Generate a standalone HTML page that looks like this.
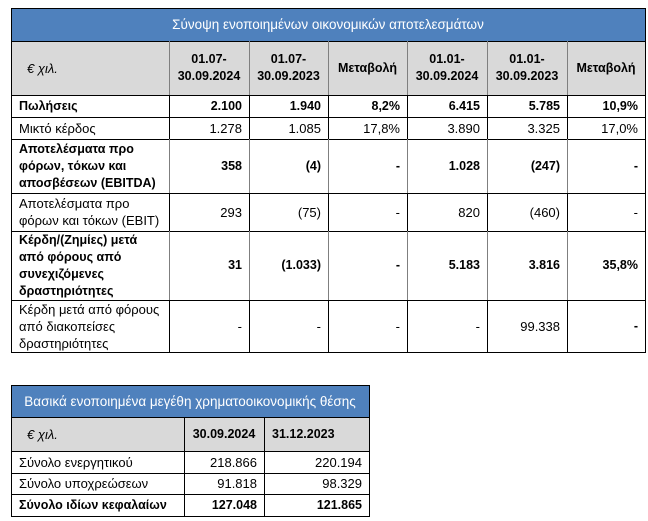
<!DOCTYPE html>
<html><head><meta charset="utf-8">
<style>
html,body{margin:0;padding:0;background:#fff;}
body{width:648px;height:521px;position:relative;overflow:hidden;font-family:"Liberation Sans","Noto Sans CJK SC",sans-serif;font-size:13px;color:#000;}
.c{position:absolute;box-sizing:border-box;display:flex;align-items:center;line-height:17px;white-space:nowrap;font-size:13px;}
.l{justify-content:flex-start;padding-left:8px;}
.r{justify-content:flex-end;padding-right:7px;}
.m{justify-content:center;text-align:center;}
.b{font-weight:bold;font-size:12.5px;}
.blue{background:#4f81bd;color:#fff;font-size:13.5px;}
.gray{background:#d9d9d9;}
.h{position:absolute;height:1px;background:#000;}
.v{position:absolute;width:1px;background:#000;}
.vg{background:#7f7f7f;}
</style></head><body>

<!-- TOP TABLE backgrounds -->
<div class="c m blue" style="left:11px;top:8px;width:634px;height:33px;">Σύνοψη ενοποιημένων οικονομικών αποτελεσμάτων</div>
<div class="gray" style="position:absolute;left:11px;top:41px;width:634px;height:54px;"></div>

<!-- header row -->
<div class="c l" style="left:11px;top:41px;width:158px;height:54px;padding-left:16px;font-style:italic;">€ χιλ.</div>
<div class="c m b" style="left:169px;top:41px;width:80px;height:54px;">01.07-<br>30.09.2024</div>
<div class="c m b" style="left:249px;top:41px;width:79px;height:54px;">01.07-<br>30.09.2023</div>
<div class="c m b" style="left:328px;top:41px;width:79px;height:54px;">Μεταβολή</div>
<div class="c m b" style="left:407px;top:41px;width:80px;height:54px;">01.01-<br>30.09.2024</div>
<div class="c m b" style="left:487px;top:41px;width:80px;height:54px;">01.01-<br>30.09.2023</div>
<div class="c m b" style="left:567px;top:41px;width:78px;height:54px;">Μεταβολή</div>

<!-- row Πωλήσεις 95-117 -->
<div class="c l b" style="left:11px;top:95px;width:158px;height:22px;">Πωλήσεις</div>
<div class="c r b" style="left:169px;top:95px;width:80px;height:22px;">2.100</div>
<div class="c r b" style="left:249px;top:95px;width:79px;height:22px;">1.940</div>
<div class="c r b" style="left:328px;top:95px;width:79px;height:22px;">8,2%</div>
<div class="c r b" style="left:407px;top:95px;width:80px;height:22px;">6.415</div>
<div class="c r b" style="left:487px;top:95px;width:80px;height:22px;">5.785</div>
<div class="c r b" style="left:567px;top:95px;width:78px;height:22px;">10,9%</div>

<!-- row Μικτό 117-139 -->
<div class="c l" style="left:11px;top:117px;width:158px;height:22px;">Μικτό κέρδος</div>
<div class="c r" style="left:169px;top:117px;width:80px;height:22px;">1.278</div>
<div class="c r" style="left:249px;top:117px;width:79px;height:22px;">1.085</div>
<div class="c r" style="left:328px;top:117px;width:79px;height:22px;">17,8%</div>
<div class="c r" style="left:407px;top:117px;width:80px;height:22px;">3.890</div>
<div class="c r" style="left:487px;top:117px;width:80px;height:22px;">3.325</div>
<div class="c r" style="left:567px;top:117px;width:78px;height:22px;">17,0%</div>

<!-- row EBITDA 139-193 -->
<div class="c l b" style="left:11px;top:139px;width:158px;height:54px;">Αποτελέσματα προ<br>φόρων, τόκων και<br>αποσβέσεων (EBITDA)</div>
<div class="c r b" style="left:169px;top:139px;width:80px;height:54px;">358</div>
<div class="c r b" style="left:249px;top:139px;width:79px;height:54px;">(4)</div>
<div class="c r b" style="left:328px;top:139px;width:79px;height:54px;">-</div>
<div class="c r b" style="left:407px;top:139px;width:80px;height:54px;">1.028</div>
<div class="c r b" style="left:487px;top:139px;width:80px;height:54px;">(247)</div>
<div class="c r b" style="left:567px;top:139px;width:78px;height:54px;">-</div>

<!-- row EBIT 193-231 -->
<div class="c l" style="left:11px;top:193px;width:158px;height:38px;">Αποτελέσματα προ<br>φόρων και τόκων (EBIT)</div>
<div class="c r" style="left:169px;top:193px;width:80px;height:38px;">293</div>
<div class="c r" style="left:249px;top:193px;width:79px;height:38px;">(75)</div>
<div class="c r" style="left:328px;top:193px;width:79px;height:38px;">-</div>
<div class="c r" style="left:407px;top:193px;width:80px;height:38px;">820</div>
<div class="c r" style="left:487px;top:193px;width:80px;height:38px;">(460)</div>
<div class="c r" style="left:567px;top:193px;width:78px;height:38px;">-</div>

<!-- row Κέρδη 231-300 -->
<div class="c l b" style="left:11px;top:231px;width:158px;height:69px;">Κέρδη/(Ζημίες) μετά<br>από φόρους από<br>συνεχιζόμενες<br>δραστηριότητες</div>
<div class="c r b" style="left:169px;top:231px;width:80px;height:69px;">31</div>
<div class="c r b" style="left:249px;top:231px;width:79px;height:69px;">(1.033)</div>
<div class="c r b" style="left:328px;top:231px;width:79px;height:69px;">-</div>
<div class="c r b" style="left:407px;top:231px;width:80px;height:69px;">5.183</div>
<div class="c r b" style="left:487px;top:231px;width:80px;height:69px;">3.816</div>
<div class="c r b" style="left:567px;top:231px;width:78px;height:69px;">35,8%</div>

<!-- row last 300-352 -->
<div class="c l" style="left:11px;top:300px;width:158px;height:52px;">Κέρδη μετά από φόρους<br>από διακοπείσες<br>δραστηριότητες</div>
<div class="c r" style="left:169px;top:300px;width:80px;height:52px;">-</div>
<div class="c r" style="left:249px;top:300px;width:79px;height:52px;">-</div>
<div class="c r" style="left:328px;top:300px;width:79px;height:52px;">-</div>
<div class="c r" style="left:407px;top:300px;width:80px;height:52px;">-</div>
<div class="c r" style="left:487px;top:300px;width:80px;height:52px;">99.338</div>
<div class="c r b" style="left:567px;top:300px;width:78px;height:52px;">-</div>

<!-- top table horizontal lines -->
<div class="h" style="left:11px;top:8px;width:635px;"></div>
<div class="h" style="left:11px;top:41px;width:635px;"></div>
<div class="h" style="left:11px;top:95px;width:635px;"></div>
<div class="h" style="left:11px;top:117px;width:635px;"></div>
<div class="h" style="left:11px;top:139px;width:635px;"></div>
<div class="h" style="left:11px;top:193px;width:635px;"></div>
<div class="h" style="left:11px;top:231px;width:635px;"></div>
<div class="h" style="left:11px;top:300px;width:635px;"></div>
<div class="h" style="left:11px;top:352px;width:635px;"></div>
<!-- outer verticals -->
<div class="v" style="left:11px;top:8px;height:345px;"></div>
<div class="v" style="left:645px;top:8px;height:345px;"></div>
<!-- inner verticals -->
<div class="v vg" style="left:169px;top:41px;height:54px;"></div>
<div class="v vg" style="left:249px;top:41px;height:54px;"></div>
<div class="v vg" style="left:328px;top:41px;height:54px;"></div>
<div class="v vg" style="left:407px;top:41px;height:54px;"></div>
<div class="v vg" style="left:487px;top:41px;height:54px;"></div>
<div class="v vg" style="left:567px;top:41px;height:54px;"></div>

<div class="v" style="left:169px;top:95px;height:44px;"></div>
<div class="v" style="left:249px;top:95px;height:44px;"></div>
<div class="v" style="left:328px;top:95px;height:44px;"></div>
<div class="v" style="left:407px;top:95px;height:44px;"></div>
<div class="v" style="left:487px;top:95px;height:44px;"></div>
<div class="v" style="left:567px;top:95px;height:44px;"></div>

<div class="v vg" style="left:169px;top:139px;height:54px;"></div>
<div class="v vg" style="left:249px;top:139px;height:54px;"></div>
<div class="v vg" style="left:328px;top:139px;height:54px;"></div>
<div class="v vg" style="left:407px;top:139px;height:54px;"></div>
<div class="v vg" style="left:487px;top:139px;height:54px;"></div>
<div class="v vg" style="left:567px;top:139px;height:54px;"></div>

<div class="v" style="left:169px;top:193px;height:38px;"></div>
<div class="v" style="left:249px;top:193px;height:38px;"></div>
<div class="v" style="left:328px;top:193px;height:38px;"></div>
<div class="v" style="left:407px;top:193px;height:38px;"></div>
<div class="v" style="left:487px;top:193px;height:38px;"></div>
<div class="v" style="left:567px;top:193px;height:38px;"></div>

<div class="v vg" style="left:169px;top:231px;height:69px;"></div>
<div class="v vg" style="left:249px;top:231px;height:69px;"></div>
<div class="v vg" style="left:328px;top:231px;height:69px;"></div>
<div class="v vg" style="left:407px;top:231px;height:69px;"></div>
<div class="v vg" style="left:487px;top:231px;height:69px;"></div>
<div class="v vg" style="left:567px;top:231px;height:69px;"></div>

<div class="v" style="left:169px;top:300px;height:52px;"></div>
<div class="v" style="left:249px;top:300px;height:52px;"></div>
<div class="v" style="left:328px;top:300px;height:52px;"></div>
<div class="v" style="left:407px;top:300px;height:52px;"></div>
<div class="v" style="left:487px;top:300px;height:52px;"></div>
<div class="v" style="left:567px;top:300px;height:52px;"></div>

<!-- BOTTOM TABLE -->
<div class="c m blue" style="left:11px;top:385px;width:358px;height:32px;">Βασικά ενοποιημένα μεγέθη χρηματοοικονομικής θέσης</div>
<div class="gray" style="position:absolute;left:11px;top:417px;width:358px;height:34px;"></div>
<div class="c l" style="left:11px;top:417px;width:173px;height:34px;padding-left:16px;font-style:italic;">€ χιλ.</div>
<div class="c m b" style="left:184px;top:417px;width:80px;height:34px;">30.09.2024</div>
<div class="c l b" style="left:264px;top:417px;width:105px;height:34px;">31.12.2023</div>

<div class="c l" style="left:11px;top:451px;width:173px;height:22px;">Σύνολο ενεργητικού</div>
<div class="c r" style="left:184px;top:451px;width:80px;height:22px;">218.866</div>
<div class="c r" style="left:264px;top:451px;width:105px;height:22px;">220.194</div>

<div class="c l" style="left:11px;top:473px;width:173px;height:21px;">Σύνολο υποχρεώσεων</div>
<div class="c r" style="left:184px;top:473px;width:80px;height:21px;">91.818</div>
<div class="c r" style="left:264px;top:473px;width:105px;height:21px;">98.329</div>

<div class="c l b" style="left:11px;top:494px;width:173px;height:22px;">Σύνολο ιδίων κεφαλαίων</div>
<div class="c r b" style="left:184px;top:494px;width:80px;height:22px;">127.048</div>
<div class="c r b" style="left:264px;top:494px;width:105px;height:22px;">121.865</div>

<div class="h" style="left:11px;top:385px;width:359px;"></div>
<div class="h" style="left:11px;top:417px;width:359px;"></div>
<div class="h" style="left:11px;top:451px;width:359px;"></div>
<div class="h" style="left:11px;top:473px;width:359px;"></div>
<div class="h" style="left:11px;top:494px;width:359px;"></div>
<div class="h" style="left:11px;top:516px;width:359px;"></div>
<div class="v" style="left:11px;top:385px;height:132px;"></div>
<div class="v" style="left:369px;top:385px;height:132px;"></div>
<div class="v" style="left:184px;top:417px;height:100px;"></div>
<div class="v" style="left:264px;top:417px;height:100px;"></div>

</body></html>
